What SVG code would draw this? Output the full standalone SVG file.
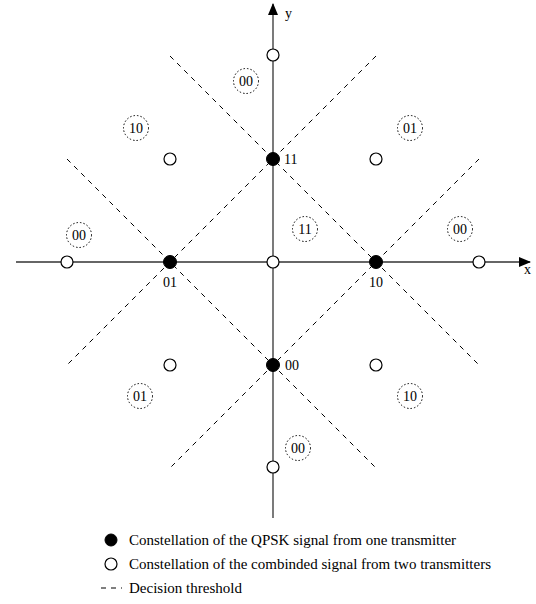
<svg xmlns="http://www.w3.org/2000/svg" width="536" height="604" viewBox="0 0 536 604">
<style>
text{font-family:"Liberation Serif","Times New Roman",serif;font-size:14px;fill:#000}
.lbl{text-anchor:middle}
.leg{font-size:15px}
.axis{stroke:#333;stroke-width:1.3;fill:none}
.dash{stroke:#000;stroke-width:1;stroke-dasharray:5,5;fill:none}
.full{fill:#000;stroke:#000}
.open{fill:#fff;stroke:#000;stroke-width:1.2}
.dot{fill:none;stroke:#000;stroke-width:1;stroke-dasharray:1.5,2}
</style>
<defs>
<marker id="arr" markerWidth="12" markerHeight="10" refX="11" refY="5" orient="auto" markerUnits="userSpaceOnUse">
<path d="M0,0 L12,5 L0,10 Z" fill="#000"/>
</marker>
</defs>
<rect width="536" height="604" fill="#fff"/>
<g id="connectors">
<line class="axis" x1="16" y1="262" x2="530" y2="262" marker-end="url(#arr)"/>
<line class="axis" x1="273" y1="518" x2="273" y2="4" marker-end="url(#arr)"/>
<line class="dash" x1="170" y1="56" x2="479" y2="365"/>
<line class="dash" x1="67" y1="159" x2="376" y2="468"/>
<line class="dash" x1="376" y1="56" x2="67" y2="365"/>
<line class="dash" x1="479" y1="159" x2="170" y2="468"/>
</g>
<g id="axis-labels">
<text x="285" y="18">y</text>
<text x="524" y="274">x</text>
</g>
<g id="open-points">
<circle class="open" cx="273" cy="55" r="6"/>
<circle class="open" cx="273" cy="467" r="6"/>
<circle class="open" cx="67" cy="262" r="6"/>
<circle class="open" cx="479" cy="262" r="6"/>
<circle class="open" cx="170" cy="159" r="6"/>
<circle class="open" cx="376" cy="159" r="6"/>
<circle class="open" cx="170" cy="365" r="6"/>
<circle class="open" cx="376" cy="365" r="6"/>
<circle class="open" cx="273" cy="262" r="6"/>
</g>
<g id="qpsk-points">
<circle class="full" cx="170" cy="262" r="6.5"/>
<circle class="full" cx="376" cy="262" r="6.5"/>
<circle class="full" cx="273" cy="159" r="6.5"/>
<circle class="full" cx="273" cy="365" r="6.5"/>
<text x="284" y="164">11</text>
<text class="lbl" x="170" y="287">01</text>
<text class="lbl" x="376" y="287">10</text>
<text x="285" y="370">00</text>
</g>
<g id="regions">
<circle class="dot" cx="246" cy="81" r="12.5"/><text class="lbl" x="246" y="86">00</text>
<circle class="dot" cx="136" cy="128" r="12.5"/><text class="lbl" x="136" y="133">10</text>
<circle class="dot" cx="410" cy="128" r="12.5"/><text class="lbl" x="410" y="133">01</text>
<circle class="dot" cx="79" cy="235" r="12.5"/><text class="lbl" x="79" y="240">00</text>
<circle class="dot" cx="305" cy="229" r="12.5"/><text class="lbl" x="305" y="234">11</text>
<circle class="dot" cx="460" cy="229" r="12.5"/><text class="lbl" x="460" y="234">00</text>
<circle class="dot" cx="140" cy="396" r="12.5"/><text class="lbl" x="140" y="401">01</text>
<circle class="dot" cx="410" cy="396" r="12.5"/><text class="lbl" x="410" y="401">10</text>
<circle class="dot" cx="298" cy="448" r="12.5"/><text class="lbl" x="298" y="453">00</text>
</g>
<g id="legend">
<circle class="full" cx="111" cy="540" r="6"/>
<text class="leg" x="129" y="545">Constellation of the QPSK signal from one transmitter</text>
<circle class="open" cx="111" cy="564" r="6"/>
<text class="leg" x="129" y="569">Constellation of the combinded signal from two transmitters</text>
<line class="dash" x1="101" y1="588" x2="122" y2="588" stroke-dasharray="4,4"/>
<text class="leg" x="129" y="593">Decision threshold</text>
</g>
</svg>
